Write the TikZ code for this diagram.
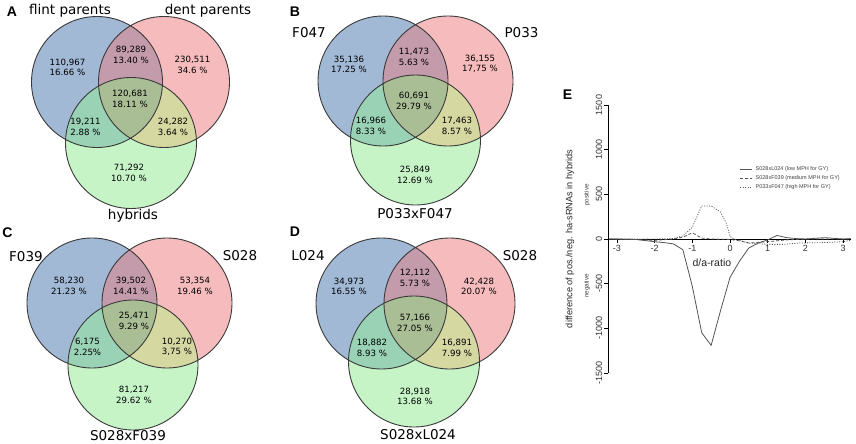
\documentclass[tikz,border=0pt]{standalone}
\usepackage{fontspec}
\setmainfont{DejaVu Sans}
\newfontfamily\arialf{Liberation Sans}
\definecolor{vblue}{HTML}{A1B9D5}
\definecolor{vpink}{HTML}{F6BCBD}
\definecolor{vgreen}{HTML}{C6F4C7}
\definecolor{vbp}{HTML}{C49BAA}
\definecolor{vbg}{HTML}{9AD2B6}
\definecolor{vpg}{HTML}{D6D8A2}
\definecolor{vbpg}{HTML}{AABE96}
\definecolor{vedge}{HTML}{3A3A3A}
\definecolor{ecurve}{HTML}{555555}
\tikzset{
  vline/.style={draw=vedge,line width=0.9pt},
  vnum/.style={font=\fontsize{8.6}{10.5}\selectfont,align=center,inner sep=0pt,text=black},
  vlab/.style={font=\fontsize{13.5}{15}\selectfont,inner sep=0pt,text=black},
  plet/.style={font=\arialf\bfseries\fontsize{14}{16}\selectfont,inner sep=0pt},
  etick/.style={font=\arialf\fontsize{9}{10}\selectfont,inner sep=0pt,text=black!80},
  esolid/.style={draw=ecurve,line width=0.8pt},
  edash/.style={draw=ecurve,line width=0.8pt,dash pattern=on 3pt off 2pt},
  edot/.style={draw=ecurve,line width=0.8pt,dash pattern=on 1pt off 1.5pt},
  legtxt/.style={font=\arialf\fontsize{5.5}{6}\selectfont,inner sep=0pt,anchor=west,text=black!75},
}
\newcommand\VennThree[5]{%
  \coordinate (#1-b) at (#2);
  \coordinate (#1-p) at (#3);
  \coordinate (#1-g) at (#4);
  \fill[vblue] (#1-b) circle[radius=#5pt];
  \fill[vpink] (#1-p) circle[radius=#5pt];
  \fill[vgreen] (#1-g) circle[radius=#5pt];
  \begin{scope}\clip (#1-b) circle[radius=#5pt]; \fill[vbp] (#1-p) circle[radius=#5pt];\end{scope}
  \begin{scope}\clip (#1-b) circle[radius=#5pt]; \fill[vbg] (#1-g) circle[radius=#5pt];\end{scope}
  \begin{scope}\clip (#1-p) circle[radius=#5pt]; \fill[vpg] (#1-g) circle[radius=#5pt];\end{scope}
  \begin{scope}\clip (#1-b) circle[radius=#5pt]; \clip (#1-p) circle[radius=#5pt]; \fill[vbpg] (#1-g) circle[radius=#5pt];\end{scope}
  \draw[vline] (#1-b) circle[radius=#5pt] (#1-p) circle[radius=#5pt] (#1-g) circle[radius=#5pt];
}
\newcommand\vnumnode[4]{\node[vnum] (#1) at (#2) {#3\\#4};}
\begin{document}
\begin{tikzpicture}[x=1pt,y=-1pt]
\useasboundingbox[fill=white] (0,0) rectangle (856,444);

% ---------- A ----------
\VennThree{A}{97,82}{164,82}{131,143}{65.5}
\vnumnode{A1}{67.5,67.5}{110,967}{16.66 \%}
\vnumnode{A2}{131,55}{89,289}{13.40 \%}
\vnumnode{A3}{192.5,65}{230,511}{34.6 \%}
\vnumnode{A4}{130,99}{120,681}{18.11 \%}
\vnumnode{A5}{85.5,127}{19,211}{2.88 \%}
\vnumnode{A6}{173,127}{24,282}{3.64 \%}
\vnumnode{A7}{129,173}{71,292}{10.70 \%}
\node[vlab] (Ab) at (70,11) {flint parents};
\node[vlab] (Ap) at (208,11) {dent parents};
\node[vlab] (Ag) at (133,216) {hybrids};
\node[plet] (Alet) at (12,12) {A};

% ---------- B ----------
\VennThree{B}{383,81}{448,81}{415.5,140}{65}
\vnumnode{B1}{349,64.5}{35,136}{17.25 \%}
\vnumnode{B2}{414,57}{11,473}{5.63 \%}
\vnumnode{B3}{480,64}{36,155}{17,75 \%}
\vnumnode{B4}{414,101}{60,691}{29.79 \%}
\vnumnode{B5}{371,126}{16,966}{8.33 \%}
\vnumnode{B6}{457,126}{17,463}{8.57 \%}
\vnumnode{B7}{415,175}{25,849}{12.69 \%}
\node[vlab] (Bb) at (309,33) {F047};
\node[vlab] (Bp) at (521.5,33) {P033};
\node[vlab] (Bg) at (415,214) {P033xF047};
\node[plet] (Blet) at (295,12) {B};

% ---------- C ----------
\VennThree{C}{92,303}{167,303}{133,365}{65}
\vnumnode{C1}{69,286}{58,230}{21.23 \%}
\vnumnode{C2}{131,286}{39,502}{14.41 \%}
\vnumnode{C3}{195,286}{53,354}{19.46 \%}
\vnumnode{C4}{134,321}{25,471}{9.29 \%}
\vnumnode{C5}{87.5,347}{6,175}{2.25\%}
\vnumnode{C6}{177,347}{10,270}{3,75 \%}
\vnumnode{C7}{134,395}{81,217}{29.62 \%}
\node[vlab] (Cb) at (26,257) {F039};
\node[vlab] (Cp) at (240,256) {S028};
\node[vlab] (Cg) at (128,436) {S028xF039};
\node[plet] (Clet) at (7.5,233) {C};

% ---------- D ----------
\VennThree{D}{381.5,303.5}{449.5,303.5}{414,361.5}{65.5}
\vnumnode{D1}{349,286.5}{34,973}{16.55 \%}
\vnumnode{D2}{415,278}{12,112}{5.73 \%}
\vnumnode{D3}{479,286.5}{42,428}{20.07 \%}
\vnumnode{D4}{415,323}{57,166}{27.05 \%}
\vnumnode{D5}{372,348}{18,882}{8.93 \%}
\vnumnode{D6}{457,348}{16,891}{7.99 \%}
\vnumnode{D7}{415,396.5}{28,918}{13.68 \%}
\node[vlab] (Db) at (308,256) {L024};
\node[vlab] (Dp) at (520,256) {S028};
\node[vlab] (Dg) at (418,435) {S028xL024};
\node[plet] (Dlet) at (295,232) {D};

% ---------- E ----------
\node[plet] (Elet) at (567.5,95) {E};
\draw[black,line width=0.9pt] (608,105) -- (608,373);
\foreach \yy/\lab in {105/1500,149.7/1000,194.3/500,239/0,283.7/-500,328.3/-1000,373/-1500}{
  \draw[black,line width=0.8pt] (608,\yy) -- (604,\yy);
  \node[etick,rotate=90,anchor=south] at (602.5,\yy) {\lab};
}
\node[font=\arialf\fontsize{9.2}{10}\selectfont,rotate=90,inner sep=0pt,text=black!85] (ylab) at (570,239) {difference of pos./neg. ha-sRNAs in hybrids};
\node[font=\arialf\fontsize{6.3}{7}\selectfont,rotate=90,inner sep=0pt,text=black!75] (ypos) at (587,195) {positive};
\node[font=\arialf\fontsize{6.3}{7}\selectfont,rotate=90,inner sep=0pt,text=black!75] (yneg) at (587,286) {negative};
\begin{scope}[shift={(730,239)},x=37.7pt,y=0.08933pt]
  \draw[black,line width=0.8pt] (-3.2,0) -- (3.2,0);
  \foreach \xx in {-3,-2,-1,0,1,2,3}{
    \draw[black,line width=0.8pt] (\xx,0) -- ++(0,-45);
    \node[etick,anchor=north] at (\xx,-70) {\xx};
  }
  \node[font=\arialf\fontsize{10.5}{12}\selectfont,inner sep=0pt,text=black!85] (xlab) at (-0.48,-270) {d/a-ratio};
  \draw[esolid] plot coordinates {(-3.2,0) (-3,0) (-2.5,-5) (-2,-30) (-1.75,-40) (-1.5,-55) (-1.25,-120) (-1,-530) (-0.75,-1050) (-0.5,-1190) (-0.25,-800) (0,-430) (0.25,-250) (0.5,-100) (0.75,-45) (1,-10) (1.25,40) (1.5,15) (1.75,5) (2,0) (2.5,15) (3,0) (3.2,5)};
  \draw[edash] plot coordinates {(-3.2,0) (-2.5,-5) (-2,-15) (-1.5,0) (-1.25,20) (-1,70) (-0.75,10) (-0.5,0) (0,-5) (0.25,-20) (0.5,-45) (1,-30) (1.5,-10) (2,0) (3,0) (3.2,0)};
  \draw[edot] plot coordinates {(-3.2,0) (-2,0) (-1.5,5) (-1.25,35) (-1,130) (-0.75,370) (-0.5,370) (-0.25,300) (-0.1,180) (0,30) (0.1,0) (0.5,-45) (1,-60) (1.4,-60) (1.85,-45) (2.5,-40) (3,-30) (3.2,-15)};
\end{scope}
\coordinate (l1a) at (740,169); \coordinate (l1b) at (752,169);
\coordinate (l2a) at (740,178); \coordinate (l2b) at (752,178);
\coordinate (l3a) at (740,187); \coordinate (l3b) at (752,187);
\draw[esolid] (l1a) -- (l1b);
\draw[edash] (l2a) -- (l2b);
\draw[edot] (l3a) -- (l3b);
\node[legtxt] (lt1) at (755.5,169) {S028xL024 (low MPH for GY)};
\node[legtxt] (lt2) at (755.5,178) {S028xF039 (medium MPH for GY)};
\node[legtxt] (lt3) at (755.5,187) {P033xF047 (high MPH for GY)};
\end{tikzpicture}
\end{document}
